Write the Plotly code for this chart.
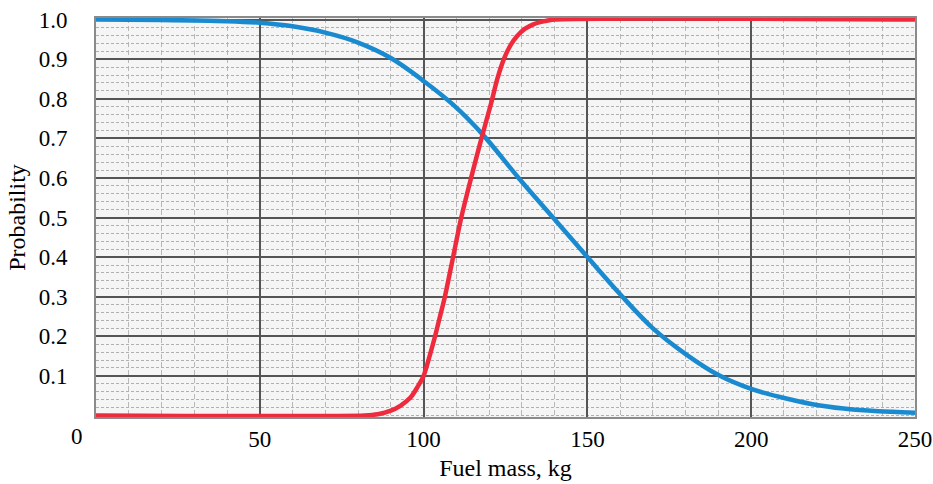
import plotly.graph_objects as go

# Red curve (increasing)
red_x = [0, 82, 86, 90, 93, 96, 98, 100, 102, 103.5, 105, 106.5, 109, 111.5,
         114.5, 117.5, 120.5, 122.5, 124.5, 126.5, 128.5, 131, 133.5, 137, 140, 250]
red_y = [0, 0, 0.003, 0.012, 0.025, 0.045, 0.07, 0.10, 0.155, 0.20, 0.25, 0.30, 0.40, 0.50,
         0.60, 0.695, 0.785, 0.85, 0.90, 0.935, 0.958, 0.977, 0.988, 0.996, 1.0, 1.0]

# Blue curve (decreasing)
blue_x = [0, 20, 40, 50, 60, 70, 80, 90, 100, 109, 118, 129, 139.5, 150, 160,
          170, 180, 190, 200, 211, 221, 231, 243, 250]
blue_y = [1.0, 0.999, 0.996, 0.992, 0.983, 0.967, 0.942, 0.903, 0.845, 0.785, 0.71, 0.60,
          0.50, 0.40, 0.306, 0.22, 0.155, 0.102, 0.067, 0.042, 0.025, 0.015, 0.009, 0.007]

x_ticks = [50, 100, 150, 200, 250]
y_ticks = [0.1, 0.2, 0.3, 0.4, 0.5, 0.6, 0.7, 0.8, 0.9, 1.0]
y_labels = ["0.1", "0.2", "0.3", "0.4", "0.5", "0.6", "0.7", "0.8", "0.9", "1.0"]

FONT = "Liberation Serif"

fig = go.Figure()
fig.add_trace(go.Scatter(x=blue_x, y=blue_y, mode="lines",
                         line=dict(color="#1a8ad0", width=4.5, shape="spline", smoothing=1.0),
                         showlegend=False, hoverinfo="skip"))
fig.add_trace(go.Scatter(x=red_x, y=red_y, mode="lines",
                         line=dict(color="#ee2a3c", width=4.5, shape="spline", smoothing=0.8),
                         showlegend=False, hoverinfo="skip"))

fig.update_layout(
    width=933, height=484,
    margin=dict(l=96, r=18, t=18, b=67),
    paper_bgcolor="white",
    plot_bgcolor="#f5f5f5",
    font=dict(family=FONT, size=23, color="black"),
    xaxis=dict(
        range=[0, 250], tickvals=x_ticks, ticktext=[str(v) for v in x_ticks],
        ticks="",
        showgrid=True, gridcolor="#555555", gridwidth=1.6,
        minor=dict(dtick=10, showgrid=True, gridcolor="#b8b8b8", griddash="5px,3px", gridwidth=1),
        showline=True, linecolor="#8a8a8a", linewidth=2, mirror=True,
        zeroline=False, automargin=False,
        tickfont=dict(family=FONT, size=23),
        title=dict(text="Fuel mass, kg", font=dict(family=FONT, size=24), standoff=9),
    ),
    yaxis=dict(
        range=[-0.004, 1.004], tickvals=y_ticks, ticktext=y_labels,
        ticks="outside", ticklen=22, tickcolor="rgba(0,0,0,0)",
        showgrid=True, gridcolor="#555555", gridwidth=1.6,
        minor=dict(dtick=0.02, showgrid=True, gridcolor="#b0b0b0", griddash="3px,2px", gridwidth=1),
        showline=True, linecolor="#8a8a8a", linewidth=2, mirror=True,
        zeroline=False, automargin=False,
        tickfont=dict(family=FONT, size=23),
        title=dict(text="Probability", font=dict(family=FONT, size=24), standoff=6),
    ),
)

fig.add_annotation(text="0", xref="paper", yref="paper", x=0, y=0, xshift=-19, yshift=-5,
                   xanchor="center", yanchor="top", showarrow=False,
                   font=dict(family=FONT, size=23, color="black"))

fig.write_html("out.html")
